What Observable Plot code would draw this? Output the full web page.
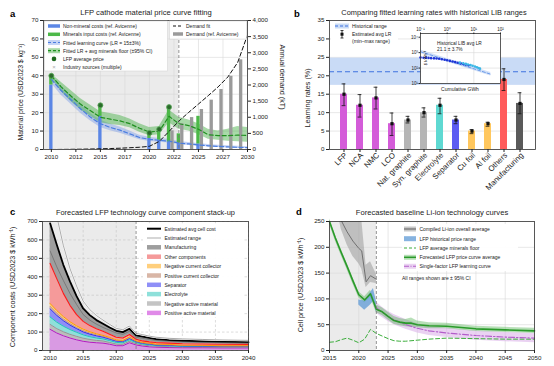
<!DOCTYPE html>
<html><head><meta charset="utf-8">
<script src="https://cdn.jsdelivr.net/npm/d3@7"></script>
<script src="https://cdn.jsdelivr.net/npm/@observablehq/plot@0.6"></script>
<style>
body{margin:0;background:#fff;}
#root{position:relative;width:554px;height:366px;overflow:hidden;background:#fff;}
</style></head><body><div id="root"></div>
<script>
// ================= DATA =================
// ---- Panel a ----
const aXTicks = [2010, 2012.5, 2015, 2017.5, 2020, 2022.5, 2025, 2027.5, 2030];
const aYTicks = [0, 10, 20, 30, 40, 50, 60, 70];
const aDemandTicks = [0, 500, 1000, 1500, 2000, 2500, 3000, 3500, 4000];
const aPriceYears = [2010, 2015, 2020, 2021, 2022, 2023, 2025];
const aNonMineral = [35, 18, 6, 5, 4, 3.5, 3];
const aTotalPrice = [40, 24, 9, 10.5, 23, 8.5, 18];
const aAvgYears = [2010, 2015, 2020, 2021, 2022];
const aAvgPrice = [40, 24, 9, 11, 23];
const aDemandYears = [2022, 2023, 2024, 2025, 2026, 2027, 2028, 2029];
const aDemand = [580, 800, 990, 1240, 1530, 1860, 2270, 2780];
const aFitYears = [2010,2011,2012,2013,2014,2015,2016,2017,2018,2019,2020,2021,2022,2023,2024,2025,2026,2027,2028,2029,2030];
const aLearn   = [38,32,27,22,17.5,14,12,10.5,8.5,6.5,5.5,5,4.5,3.5,3,2.5,2,1.7,1.4,1.2,1.0];
const aLearnLo = [36,29.5,24.5,19.5,15.5,12,10.2,8.8,7,5.3,4.4,4,3.5,2.7,2.2,1.8,1.3,1.1,0.8,0.6,0.5];
const aLearnHi = [40,34.5,29.5,24.5,19.5,16,13.8,12.2,10,7.8,6.6,6,5.5,4.4,3.8,3.2,2.7,2.3,2,1.8,1.5];
const aFloor   = [40,34,29,24.5,21,17.5,16.5,15.5,14,11.5,9.5,10,18,14,13,11,8,7.5,7.5,7.8,7.6];
const aFloorLo = [39,31.5,26,21.5,18,14.5,13.5,13,11.8,9.3,7.5,8,14.5,11,10,8.2,5.5,5,4.5,4.2,4];
const aFloorHi = [41,36.5,32,27.5,24,20.5,19.5,18.5,16.5,14,12,12.5,21.5,17.5,16,14,11,10,11,12.5,12];
const aDemandFit = [0,3,6,10,15,22,30,40,55,70,100,250,560,880,1150,1410,1670,1940,2250,2700,3550];

// ---- Panel b ----
const bCats = ["LFP","NCA","NMC","LCO","Nat. graphite","Syn. graphite","Electrolyte","Separator","Cu foil","Al foil","Others","Manufacturing"];
const bLR  = [15, 12, 14, 7, 8, 10, 12, 8, 5, 7, 19, 12.5];
const bMin = [11.9, 8.8, 11, 3.8, 7.2, 8.8, 9.7, 7, 4.3, 6.3, 16, 9.7];
const bMax = [17.8, 14.9, 16.9, 9.9, 9, 11.3, 13.9, 9, 5.4, 7.4, 21.9, 15.4];
const bColors = ["#d45cd9","#d45cd9","#d45cd9","#d45cd9","#b5b5b5","#b5b5b5","#5fd9d2","#5c5cf2","#ffc75e","#ffc75e","#ff5b5b","#5a5a5a"];
const bYTicks = [0, 5, 10, 15, 20, 25, 30, 35];
const bHistLo = 17.4, bHistHi = 24.8, bHistAvg = 21.1;
// inset (log-log)
const insDarkGWh   = [0.1,0.13,0.16,0.2,0.25,0.32,0.4,0.5,0.63,0.8,1.0,1.26,1.6,2.0,2.5,3.2,4.0,5.0,6.3];
const insDarkPrice = [480,470,462,455,440,428,415,400,372,345,318,292,268,243,222,202,184,168,152];
const insCyanGWh   = [3,4,5,6,7.5,9,11,13,15,17];
const insCyanPrice = [226,205,186,170,156,140,126,114,101,92];
const insFitGWh = [0.1, 43];
const insFit    = [1150, 40];
const insFitLo  = [880, 31];
const insFitHi  = [1500, 52];
const insXTicks = [0.1, 1, 10, 100];
const insYTicks = [10, 100, 1000, 10000];

// ---- Panel c ----
const cYears = [2010,2011,2012,2013,2014,2015,2016,2017,2018,2019,2020,2021,2022,2023,2024,2025,2026,2028,2030,2033,2036,2040];
const cPAM   = [115,95,80,68,58,50,45,42,40,34,26,26,42,30,24,20,18,16,15,15,14,14];
const cNAM   = [27,24,22,20,19,17,15,13,12,10,9,8,8,7,6,6,5,5,4,4,4,4];
const cElec  = [40,35,30,26,22,18,15,13,11,10,9,8,8,6,5,5,4,4,3,3,3,3];
const cSep   = [44,37,30,24,20,16,14,12,10,8,7,6,7,5,4,4,3,3,3,2,2,2];
const cPosCC = [14,12,10,8,6,7,6,5,4,4,3,3,4,2,2,2,2,2,2,2,1,1];
const cNegCC = [15,14,12,10,9,8,7,6,5,5,4,4,5,3,3,3,3,3,2,2,2,2];
const cOther = [217,173,126,89,61,42,33,27,23,17,14,13,13,8,8,7,8,7,8,7,8,7];
const cManuf = [218,185,155,130,100,70,57,47,40,37,35,32,31,21,23,21,19,16,16,15,13,12];
const cUpper = [900,730,570,445,350,268,222,190,165,142,120,113,133,93,86,78,72,66,63,60,57,55];
const cLower = [540,455,380,310,250,195,165,143,125,110,95,88,104,72,66,60,55,50,47,44,42,40];
const cXTicks = [2010, 2015, 2020, 2025, 2030, 2035, 2040];
const cYTicks = [0, 100, 200, 300, 400, 500, 600, 700];

// ---- Panel d ----
const dGreyYears = [2016.5, 2017, 2018, 2019, 2020, 2020.5, 2021.25, 2022, 2023];
const dGreyAvg   = [280, 252, 230, 212, 198, 193, 133, 145, 138];
const dGreyLo    = [262, 235, 205, 182, 168, 158, 122, 132, 130];
const dGreyHi    = [300, 300, 290, 275, 262, 255, 165, 172, 148];
const dBlueYears = [2020, 2021, 2022, 2022.5, 2023];
const dBlueLo    = [88, 78, 88, 95, 74];
const dBlueHi    = [98, 96, 112, 120, 96];
const dFloorYears = [2015,2016,2017,2018,2019,2020,2021,2022,2023,2024,2025,2026,2027,2028,2030,2032,2035,2040,2045,2050];
const dFloor      = [16,17,21,24,20,15,22,41,33,28,23,19,18,18,20,22,24,23,22,22];
const dAvgYears = [2015,2016,2017,2018,2019,2020,2021,2022,2023,2024,2025,2026,2027,2028,2029,2030,2032,2035,2040,2045,2050];
const dAvg      = [250,218,190,163,135,108,98,110,80,75,66,58,55,53,53,50,48,47,42,40,38];
const dAvgLo    = [245,212,184,157,129,102,92,103,73,68,59,51,48,46,45,44,42,42,37,35,33];
const dAvgHi    = [255,224,196,169,141,114,104,117,88,83,74,66,62,60,63,57,54,53,47,45,43];
const dSingleYears = [2023,2024,2025,2026,2028,2030,2032,2035,2040,2045,2050];
const dSingle      = [83,74,66,60,50,43,38,34,29,26,24];
const dSingleLo    = [72,64,56,50,41,34,29,25,20,17,15];
const dSingleHi    = [94,84,76,70,60,52,47,43,38,35,33];
const dXTicks = [2015, 2020, 2025, 2030, 2035, 2040, 2045, 2050];
const dYTicks = [0, 50, 100, 150, 200, 250];

// ================= RENDER =================
const FONT = "'Liberation Sans', Arial, Helvetica, sans-serif";
const baseStyle = {background: "transparent", fontFamily: FONT, fontSize: "6px", color: "#222", overflow: "visible"};
const root = document.getElementById("root");
function place(node, left, top) {
  node.style.position = "absolute"; node.style.left = left + "px"; node.style.top = top + "px";
  root.appendChild(node);
}
const gridOpts = {stroke: "#d6d6d6", strokeOpacity: 1, strokeWidth: 0.6};
const ax = {tickSize: 3, tickPadding: 2, fontSize: 6.2, label: null};

// ---- Panel a ----
const K = 70 / 4000;
const aFit = aFitYears.map((y, i) => ({year: y, learn: aLearn[i], learnLo: aLearnLo[i], learnHi: aLearnHi[i],
  floor: aFloor[i], floorLo: aFloorLo[i], floorHi: aFloorHi[i], dem: aDemandFit[i] * K}));
const aPrice = aPriceYears.map((y, i) => ({year: y, non: aNonMineral[i], tot: aTotalPrice[i]}));
const aAvg = aAvgYears.map((y, i) => ({year: y, v: aAvgPrice[i]}));
const aDem = aDemandYears.map((y, i) => ({year: y, v: aDemand[i] * K}));
const pa = Plot.plot({
  width: 290, height: 183, marginLeft: 43, marginRight: 43, marginTop: 20, marginBottom: 34,
  style: baseStyle,
  x: {domain: [2009.2, 2030]}, y: {domain: [0, 70]},
  marks: [
    Plot.barX([{x1: 2009.2, x2: 2023}], {x1: "x1", x2: "x2", fill: "#ebebeb"}),
    Plot.gridX(aXTicks, gridOpts),
    Plot.gridY(aYTicks, gridOpts),
    Plot.areaY(aFit, {x: "year", y1: "learnLo", y2: "learnHi", fill: "#6f93e8", fillOpacity: 0.4}),
    Plot.areaY(aFit, {x: "year", y1: "floorLo", y2: "floorHi", fill: "#3fae3f", fillOpacity: 0.45}),
    Plot.rect(aDem, {x1: d => d.year + 0.18, x2: d => d.year + 0.52, y1: 0, y2: "v", fill: "#9a9a9a"}),
    Plot.rect(aPrice, {x1: d => d.year - 0.17, x2: d => d.year + 0.17, y1: 0, y2: "non", fill: "#5b86e5"}),
    Plot.rect(aPrice, {x1: d => d.year - 0.17, x2: d => d.year + 0.17, y1: "non", y2: "tot", fill: "#4cb848"}),
    Plot.lineY(aFit, {x: "year", y: "dem", stroke: "#111", strokeDasharray: "4,2.5", strokeWidth: 1, clip: true}),
    Plot.lineY(aFit, {x: "year", y: "learn", stroke: "#4a7de0", strokeDasharray: "4,2.5", strokeWidth: 1.2}),
    Plot.lineY(aFit, {x: "year", y: "floor", stroke: "#1f8f1f", strokeDasharray: "4,2.5", strokeWidth: 1.2}),
    Plot.dot(aAvg, {x: "year", y: "v", r: 2.5, fill: "#2b6a2b", stroke: "#58a858", strokeWidth: 0.8}),
    Plot.ruleX([2023], {stroke: "#777", strokeDasharray: "3,2", strokeWidth: 0.8}),
    Plot.frame({stroke: "#333", strokeWidth: 0.8}),
    Plot.axisX({...ax, ticks: aXTicks, tickFormat: d => String(Math.floor(d))}),
    Plot.axisY({...ax, ticks: aYTicks}),
    Plot.axisY({...ax, anchor: "right", ticks: aDemandTicks.map(v => v * K), tickFormat: d => d3.format(",")(Math.round(d / K))})
  ]
});
place(pa, 0, 0);

// ---- Panel b ----
const bData = bCats.map((c, i) => ({cat: c, lr: bLR[i], lo: bMin[i], hi: bMax[i], color: bColors[i]}));
const pb = Plot.plot({
  width: 277, height: 200, marginLeft: 52, marginRight: 19, marginTop: 20, marginBottom: 51,
  style: baseStyle,
  x: {domain: bCats, type: "band", paddingInner: 0.55, paddingOuter: 0.52},
  y: {domain: [0, 35]},
  color: {type: "identity"},
  marks: [
    Plot.gridY(bYTicks, gridOpts),
    Plot.barY([{lo: bHistLo, hi: bHistHi}], {y1: "lo", y2: "hi", fill: "#c9dbf6"}),
    Plot.ruleY([bHistAvg], {stroke: "#3f73e0", strokeDasharray: "5,3", strokeWidth: 1.2}),
    Plot.barY(bData, {x: "cat", y: "lr", fill: "color"}),
    Plot.ruleX(bData, {x: "cat", y1: "lo", y2: "hi", stroke: "#111", strokeWidth: 0.8}),
    Plot.tickY(bData, {x: "cat", y: "lo", stroke: "#111", strokeWidth: 0.8, insetLeft: 1.6, insetRight: 1.6}),
    Plot.tickY(bData, {x: "cat", y: "hi", stroke: "#111", strokeWidth: 0.8, insetLeft: 1.6, insetRight: 1.6}),
    Plot.dot(bData, {x: "cat", y: "lr", r: 1.8, fill: "#111", symbol: "square"}),
    Plot.frame({stroke: "#333", strokeWidth: 0.8}),
    Plot.axisX({tickSize: 3, tickFormat: () => "", label: null}),
    Plot.axisY({...ax, ticks: bYTicks})
  ]
});
place(pb, 277, 0);

// inset
const sup = {"-1": "⁻¹", "0": "⁰", "1": "¹", "2": "²", "3": "³", "4": "⁴"};
const fmtPow = d => "10" + sup[String(Math.round(Math.log10(d)))];
const insDark = insDarkGWh.map((g, i) => ({g, p: insDarkPrice[i]}));
const insCyan = insCyanGWh.map((g, i) => ({g, p: insCyanPrice[i]}));
const insFitD = insFitGWh.map((g, i) => ({g, p: insFit[i], lo: insFitLo[i], hi: insFitHi[i]}));
const pin = Plot.plot({
  width: 105, height: 70, marginLeft: 20, marginRight: 5, marginTop: 8, marginBottom: 12,
  style: {...baseStyle, fontSize: "4.5px"},
  x: {type: "log", domain: [0.1, 100]}, y: {type: "log", domain: [10, 17400]},
  marks: [
    Plot.frame({fill: "#fff"}),
    Plot.gridX([1, 10], gridOpts),
    Plot.gridY([100, 1000], gridOpts),
    Plot.areaY(insFitD, {x: "g", y1: "lo", y2: "hi", fill: "#b3cbf3", fillOpacity: 0.6}),
    Plot.lineY(insFitD, {x: "g", y: "p", stroke: "#6d9be8", strokeDasharray: "3,2", strokeWidth: 1}),
    Plot.dot(insDark, {x: "g", y: "p", r: 1.3, fill: "#1f35d6"}),
    Plot.dot(insCyan, {x: "g", y: "p", r: 1.3, fill: "#3bb7e6"}),
    Plot.frame({stroke: "#333", strokeWidth: 0.8}),
    Plot.axisX({anchor: "top", ticks: insXTicks, tickFormat: fmtPow, tickSize: 1.5, tickPadding: 1, fontSize: 4.5, label: null}),
    Plot.axisY({ticks: insYTicks, tickFormat: fmtPow, tickSize: 1.5, tickPadding: 1, fontSize: 4.5, label: null})
  ]
});
place(pin, 400, 25);

// ---- Panel c ----
const cComps = [
  {name: "PAM", vals: cPAM, fill: "#d99ae3", line: "#b31bc0", w: 1},
  {name: "NAM", vals: cNAM, fill: "#bcbcbc", line: "#8a8a8a", w: 0.8},
  {name: "Elec", vals: cElec, fill: "#8ee0da", line: "#1fc4bb", w: 1},
  {name: "Sep", vals: cSep, fill: "#8f8ff7", line: "#2f2ff0", w: 1},
  {name: "PosCC", vals: cPosCC, fill: "#d9b6a6", line: "#b98b76", w: 0.8},
  {name: "NegCC", vals: cNegCC, fill: "#ffcf7d", line: "#ff9800", w: 1},
  {name: "Other", vals: cOther, fill: "#f59a9a", line: "#ff1a1a", w: 1.1},
  {name: "Manuf", vals: cManuf, fill: "#9e9e9e", line: "#000", w: 1.8}
];
const cum = cYears.map(() => 0);
for (const comp of cComps) {
  comp.rows = cYears.map((y, i) => {
    const lo = cum[i]; cum[i] += comp.vals[i];
    return {year: y, lo, hi: cum[i]};
  });
}
const cRange = cYears.map((y, i) => ({year: y, up: cUpper[i], low: cLower[i]}));
const pc = Plot.plot({
  width: 290, height: 183, marginLeft: 42, marginRight: 42, marginTop: 38, marginBottom: 16,
  style: baseStyle,
  x: {domain: [2008.85, 2040]}, y: {domain: [0, 700]},
  marks: [
    Plot.barX([{x1: 2008.85, x2: 2023}], {x1: "x1", x2: "x2", fill: "#ebebeb"}),
    Plot.gridX(cXTicks, {...gridOpts, stroke: "#c4c4c4", strokeDasharray: "2.5,2"}),
    Plot.gridY(cYTicks, {...gridOpts, stroke: "#c4c4c4", strokeDasharray: "2.5,2"}),
    ...cComps.map(c => Plot.areaY(c.rows, {x: "year", y1: "lo", y2: "hi", fill: c.fill})),
    ...cComps.map(c => Plot.lineY(c.rows, {x: "year", y: "hi", stroke: c.line, strokeWidth: c.w})),
    Plot.lineY(cRange, {x: "year", y: "up", stroke: "#fff", strokeWidth: 1.6, clip: true}),
    Plot.lineY(cRange, {x: "year", y: "up", stroke: "#707070", strokeWidth: 0.6, clip: true}),
    Plot.lineY(cRange, {x: "year", y: "low", stroke: "#606060", strokeWidth: 0.6}),
    Plot.ruleX([2023], {stroke: "#777", strokeDasharray: "3,2", strokeWidth: 0.8}),
    Plot.frame({stroke: "#333", strokeWidth: 0.8}),
    Plot.axisX({...ax, ticks: cXTicks, tickFormat: d => String(d)}),
    Plot.axisY({...ax, ticks: cYTicks})
  ]
});
place(pc, 0, 183);

// ---- Panel d ----
const dGrey = dGreyYears.map((y, i) => ({year: y, v: dGreyAvg[i], lo: dGreyLo[i], hi: dGreyHi[i]}));
const dBlue = dBlueYears.map((y, i) => ({year: y, lo: dBlueLo[i], hi: dBlueHi[i]}));
const dFl = dFloorYears.map((y, i) => ({year: y, v: dFloor[i]}));
const dAv = dAvgYears.map((y, i) => ({year: y, v: dAvg[i], lo: dAvgLo[i], hi: dAvgHi[i]}));
const dSi = dSingleYears.map((y, i) => ({year: y, v: dSingle[i], lo: dSingleLo[i], hi: dSingleHi[i]}));
const pd = Plot.plot({
  width: 277, height: 183, marginLeft: 52, marginRight: 20, marginTop: 38, marginBottom: 16,
  style: baseStyle,
  x: {domain: [2015, 2050]}, y: {domain: [0, 250]},
  marks: [
    Plot.barX([{x1: 2015, x2: 2023}], {x1: "x1", x2: "x2", fill: "#ebebeb"}),
    Plot.gridX(dXTicks, gridOpts),
    Plot.gridY(dYTicks, gridOpts),
    Plot.areaY(dGrey, {x: "year", y1: "lo", y2: "hi", fill: "#9a9a9a", fillOpacity: 0.55, clip: true}),
    Plot.areaY(dSi, {x: "year", y1: "lo", y2: "hi", fill: "#dcb4ea", fillOpacity: 0.6}),
    Plot.areaY(dAv, {x: "year", y1: "lo", y2: "hi", fill: "#4cae4c", fillOpacity: 0.4}),
    Plot.areaY(dBlue, {x: "year", y1: "lo", y2: "hi", fill: "#5e9ad6", fillOpacity: 0.75}),
    Plot.lineY(dGrey, {x: "year", y: "v", stroke: "#707070", strokeWidth: 1, clip: true}),
    Plot.lineY(dFl, {x: "year", y: "v", stroke: "#3cae3c", strokeDasharray: "4,2.5", strokeWidth: 1}),
    Plot.lineY(dSi, {x: "year", y: "v", stroke: "#b25cc9", strokeDasharray: "6,2,1.5,2", strokeWidth: 1.1}),
    Plot.lineY(dAv, {x: "year", y: "v", stroke: "#2a9a2a", strokeWidth: 1.6}),
    Plot.ruleX([2023], {stroke: "#777", strokeDasharray: "3,2", strokeWidth: 0.8}),
    Plot.frame({stroke: "#333", strokeWidth: 0.8}),
    Plot.axisX({...ax, ticks: dXTicks, tickFormat: d => String(d)}),
    Plot.axisY({...ax, ticks: dYTicks})
  ]
});
place(pd, 277, 183);

// ================= OVERLAY: titles, labels, legends =================
const ov = d3.create("svg").attr("width", 554).attr("height", 366).style("font-family", FONT);
function T(x, y, s, o = {}) {
  const t = ov.append("text").attr("x", x).attr("y", y).attr("font-size", o.size || 5)
    .attr("text-anchor", o.anchor || "start").attr("font-weight", o.weight || "normal")
    .attr("fill", o.fill || "#222").attr("dominant-baseline", o.base || "central").text(s);
  if (o.rotate) t.attr("transform", `rotate(${o.rotate},${x},${y})`);
  return t;
}
function box(x, y, w, h, stroke) {
  ov.append("rect").attr("x", x).attr("y", y).attr("width", w).attr("height", h)
    .attr("fill", "#fff").attr("fill-opacity", 0.95).attr("stroke", stroke || "none").attr("stroke-width", 0.5);
}
function line(x1, x2, y, stroke, w, dash) {
  ov.append("line").attr("x1", x1).attr("x2", x2).attr("y1", y).attr("y2", y)
    .attr("stroke", stroke).attr("stroke-width", w).attr("stroke-dasharray", dash || null);
}
function sw(x, y, w, h, fill, op) {
  ov.append("rect").attr("x", x).attr("y", y - h / 2).attr("width", w).attr("height", h).attr("fill", fill).attr("fill-opacity", op == null ? 1 : op);
}

// panel b category labels, positioned with panel b's own band scale
const bx = pb.scale("x");
bCats.forEach(c => {
  const cx = 277 + bx.apply(c) + bx.bandwidth / 2 + 2.5;
  T(cx, 154, c, {size: 7.8, anchor: "end", rotate: -45});
});

// panel letters & titles
T(10, 13, "a", {size: 9.5, weight: "bold", fill: "#000"});
T(294, 13, "b", {size: 9.5, weight: "bold", fill: "#000"});
T(10, 211, "c", {size: 9.5, weight: "bold", fill: "#000"});
T(296, 211, "d", {size: 9.5, weight: "bold", fill: "#000"});
T(146, 12.5, "LFP cathode material price curve fitting", {size: 7.6, anchor: "middle"});
T(434, 12.5, "Comparing fitted learning rates with historical LIB ranges", {size: 7.4, anchor: "middle"});
T(145.5, 212.5, "Forecasted LFP technology curve component stack-up", {size: 7.4, anchor: "middle"});
T(432, 212.5, "Forecasted baseline Li-ion technology curves", {size: 7.6, anchor: "middle"});

// axis labels
T(20, 92, "Material price (USD2023 $ kg⁻¹)", {size: 6.9, anchor: "middle", rotate: -90});
T(282, 77, "Annual demand (kT)", {size: 7.2, anchor: "middle", rotate: 90});
T(307, 98, "Learning rates (%)", {size: 7.2, anchor: "middle", rotate: -90});
T(12, 287, "Component costs (USD2023 $ kWh⁻¹)", {size: 7.2, anchor: "middle", rotate: -90});
T(300, 285, "Cell price (USD2023 $ kWh⁻¹)", {size: 7.2, anchor: "middle", rotate: -90});

// panel a legends
box(44.5, 21, 123, 50, "#d0d0d0");
const aL = [26, 34.3, 42.5, 50.7, 58.9, 66.8];
sw(48, aL[0], 12, 3.5, "#5b86e5"); T(63, aL[0], "Non-mineral costs (ref. Avicenne)");
sw(48, aL[1], 12, 3.5, "#4cb848"); T(63, aL[1], "Minerals input costs (ref. Avicenne)");
sw(48, aL[2], 12, 5, "#6f93e8", 0.4); line(48, 60, aL[2], "#4a7de0", 1.2, "3,2"); T(63, aL[2], "Fitted learning curve (LR = 15±3%)");
sw(48, aL[3], 12, 5, "#3fae3f", 0.45); line(48, 60, aL[3], "#1f8f1f", 1.2, "3,2"); T(63, aL[3], "Fitted LR + avg minerals floor (±95% CI)");
ov.append("circle").attr("cx", 54).attr("cy", aL[4]).attr("r", 2.3).attr("fill", "#1f6a1f");
T(63, aL[4], "LFP average price");
T(54, aL[5], "×", {size: 6, anchor: "middle", fill: "#aaa"}); T(63, aL[5], "Industry sources (multiple)");
box(169.5, 21, 77, 18, "#d0d0d0");
line(173, 183, 26, "#111", 1, "3,2"); T(186, 26, "Demand fit");
sw(173, 34, 10, 3.5, "#9a9a9a"); T(186, 34, "Demand (ref. Avicenne)");

// panel b legend
box(331, 21.5, 67, 25, null);
sw(335, 26, 14, 5, "#c9dbf6"); line(335, 349, 26, "#3f73e0", 1.2, "3,2"); T(352, 26, "Historical range");
ov.append("line").attr("x1", 342).attr("x2", 342).attr("y1", 30.5).attr("y2", 38).attr("stroke", "#111").attr("stroke-width", 0.8);
line(340.5, 343.5, 30.5, "#111", 0.8); line(340.5, 343.5, 38, "#111", 0.8);
ov.append("rect").attr("x", 340.5).attr("y", 32.7).attr("width", 3).attr("height", 3).attr("fill", "#111");
T(352, 33.8, "Estimated avg LR"); T(352, 41, "(min–max range)");
// inset texts
T(437, 43, "Historical LIB avg LR", {size: 4.8});
T(437, 49, "21.1 ± 3.7%", {size: 4.8});
T(460, 89, "Cumulative GWh", {size: 5, anchor: "middle"});
T(425, 58, "$ kWh⁻¹", {size: 4.3, anchor: "middle", rotate: -90});

// panel c legend
box(143, 223.5, 100, 94, null);
const cL = [228.7, 238, 247.3, 256.7, 266.1, 275.5, 284.8, 294.1, 303.5, 312.9];
const cItems = [
  ["Estimated avg cell cost", "line", "#000", 2],
  ["Estimated range", "line", "#777", 0.6],
  ["Manufacturing", "rect", "#9e9e9e"],
  ["Other components", "rect", "#f59a9a"],
  ["Negative current collector", "rect", "#ffcf7d"],
  ["Positive current collector", "rect", "#d9b6a6"],
  ["Separator", "rect", "#8f8ff7"],
  ["Electrolyte", "rect", "#8ee0da"],
  ["Negative active material", "rect", "#c4c4c4"],
  ["Positive active material", "rect", "#e08ae8"]
];
cItems.forEach((it, i) => {
  if (it[1] === "line") line(147, 161, cL[i], it[2], it[3]);
  else sw(147, cL[i], 14, 4.5, it[2]);
  T(164.5, cL[i], it[0]);
});

// panel d legend
box(402, 224, 116, 47, null);
const dL = [229, 238.7, 248, 257.3, 266.3];
sw(404, dL[0], 12, 5, "#9a9a9a", 0.55); line(404, 416, dL[0], "#707070", 1.2); T(419.5, dL[0], "Compiled Li-ion overall average");
sw(404, dL[1], 12, 5, "#5e9ad6", 0.75); T(419.5, dL[1], "LFP historical price range");
line(404, 416, dL[2], "#3cae3c", 1, "3,2"); T(419.5, dL[2], "LFP average minerals floor");
sw(404, dL[3], 12, 5, "#4cae4c", 0.4); line(404, 416, dL[3], "#2a9a2a", 1.5); T(419.5, dL[3], "Forecasted LFP price curve average");
sw(404, dL[4], 12, 5, "#dcb4ea", 0.6); line(404, 416, dL[4], "#b25cc9", 1.1, "5,1.5,1,1.5"); T(419.5, dL[4], "Single-factor LFP learning curve");
T(402, 278, "All ranges shown are ± 95% CI", {size: 5});

place(ov.node(), 0, 0);
</script>
</body></html>
